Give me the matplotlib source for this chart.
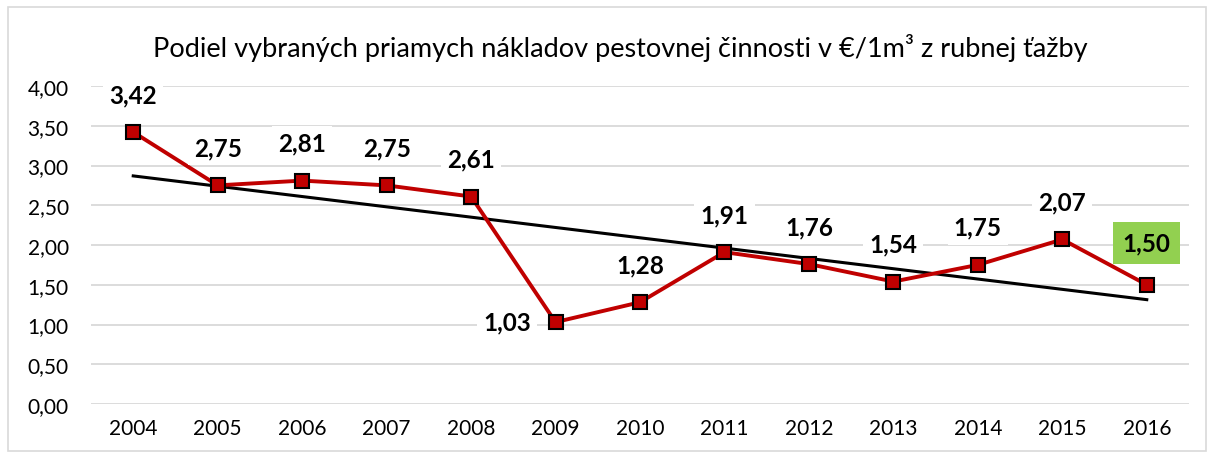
import numpy as np
import matplotlib
matplotlib.use("Agg")
import matplotlib.pyplot as plt
from matplotlib.patches import Rectangle

plt.rcParams['font.family'] = ['Lato', 'DejaVu Sans']

years = ['2004', '2005', '2006', '2007', '2008', '2009', '2010',
         '2011', '2012', '2013', '2014', '2015', '2016']
values = [3.42, 2.75, 2.81, 2.75, 2.61, 1.03, 1.28, 1.91, 1.76, 1.54, 1.75, 2.07, 1.50]
title = 'Podiel vybraných priamych nákladov pestovnej činnosti v €/1m³ z rubnej ťažby'

x = np.arange(len(years))

fig = plt.figure(figsize=(12.14, 4.60), dpi=100)
# chart border
fig.patches.append(Rectangle((8/1214, 8/460), 1198/1214, 444/460, transform=fig.transFigure,
                             fill=False, edgecolor='#D9D9D9', linewidth=1.2))
ax = fig.add_axes([91/1214, 55/460, 1098/1214, 318/460])

# trend line (linear fit)
k, q = np.polyfit(x, values, 1)
ax.plot(x, k * x + q, color='black', linewidth=2.2, zorder=3)

ax.plot(x, values, color='#C00000', linewidth=2.8, marker='s', markersize=10,
        markerfacecolor='#C00000', markeredgecolor='black', markeredgewidth=1.5, zorder=4)

for i, v in enumerate(values):
    lab = f'{v:.2f}'.replace('.', ',')
    if years[i] == '2009':
        ax.annotate(lab, (i, v), xytext=(-35, 0), textcoords='offset points',
                    ha='center', va='center', fontsize=17.5, fontweight='bold', zorder=5,
                    bbox=dict(boxstyle='square,pad=0.25', fc='white', ec='none'))
    elif years[i] == '2016':
        ax.annotate(lab, (i, v), xytext=(0, 30), textcoords='offset points',
                    ha='center', va='center', fontsize=17.5, fontweight='bold', zorder=5,
                    bbox=dict(boxstyle='square,pad=0.4', fc='#92D050', ec='none'))
    else:
        ax.annotate(lab, (i, v), xytext=(0, 27), textcoords='offset points',
                    ha='center', va='center', fontsize=17.5, fontweight='bold', zorder=5,
                    bbox=dict(boxstyle='square,pad=0.25', fc='white', ec='none'))

ax.set_xlim(-0.5, len(years) - 0.5)
ax.set_ylim(0, 4)
ax.set_yticks(np.arange(0, 4.01, 0.5))
ax.set_yticklabels([f'{t:.2f}'.replace('.', ',') for t in np.arange(0, 4.01, 0.5)])
ax.set_xticks(x)
ax.set_xticklabels(years)
ax.tick_params(length=0, labelsize=15, colors='black')
ax.tick_params(axis='y', pad=16)
ax.tick_params(axis='x', pad=10)
ax.grid(axis='y', color='#D9D9D9', linewidth=1.3)
ax.set_axisbelow(True)
for s in ax.spines.values():
    s.set_visible(False)

fig.text(620/1214, 1 - 48/460, title, ha='center', va='center', fontsize=19.5, color='black')

fig.savefig('out.png', dpi=100)
